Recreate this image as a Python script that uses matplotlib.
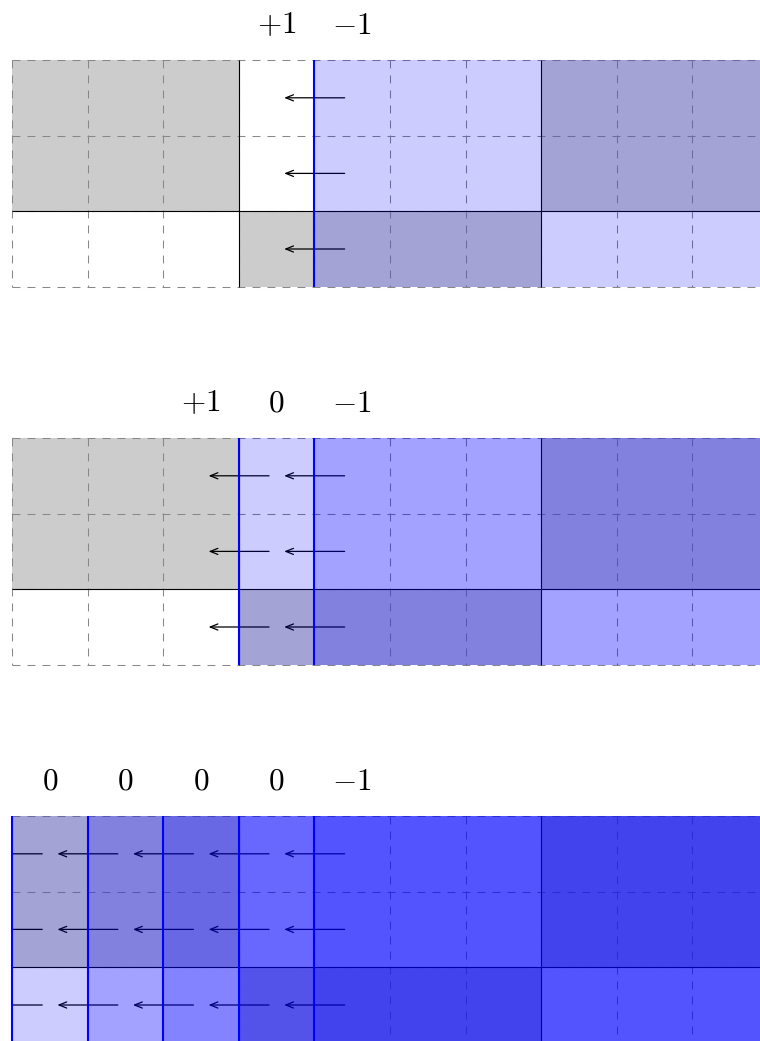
import numpy as np
import matplotlib.pyplot as plt
from matplotlib.patches import FancyArrowPatch, Rectangle

plt.rcParams['mathtext.fontset'] = 'cm'

n_cols = 10
n_rows = 3

# base checkerboard, 1 = gray cell, 0 = white cell (rows from top)
base_gray = [
    [1, 1, 1, 0, 0, 0, 0, 1, 1, 1],
    [1, 1, 1, 0, 0, 0, 0, 1, 1, 1],
    [0, 0, 0, 1, 1, 1, 1, 0, 0, 0],
]
block_cols = [3, 7]
block_rows = [2]

# number of stacked blue layers per column
layers1 = [0, 0, 0, 0, 1, 1, 1, 1, 1, 1]
layers2 = [0, 0, 0, 1, 2, 2, 2, 2, 2, 2]
layers3 = [1, 2, 3, 4, 5, 5, 5, 5, 5, 5]

# blue walls (an arrow crosses each one in every row)
walls1 = [4]
walls2 = [3, 4]
walls3 = [0, 1, 2, 3, 4]

label_cols1 = [3, 4]
labels1 = ['+1', '-1']
label_cols2 = [2, 3, 4]
labels2 = ['+1', '0', '-1']
label_cols3 = [0, 1, 2, 3, 4]
labels3 = ['0', '0', '0', '0', '-1']

panels = [
    (layers1, walls1, label_cols1, labels1),
    (layers2, walls2, label_cols2, labels2),
    (layers3, walls3, label_cols3, labels3),
]

px = 75.6  # pixels per cell
fig = plt.figure(figsize=(7.6, 10.41), dpi=100)
ax = fig.add_axes([0, 0, 1, 1])
ax.set_xlim(-12 / px, 748 / px)
ax.set_ylim((1041 - 60) / px, -60 / px)
ax.axis('off')

gray_mask = np.array(base_gray)
cols = np.arange(n_cols)
dash = (0, (7.6, 6.8))

for p, (layers, walls, lcols, labels) in enumerate(panels):
    off = 5 * p

    # gray base
    for r in range(n_rows):
        gc = cols[gray_mask[r] == 1]
        ax.bar(gc, 1, bottom=off + r, width=1, align='edge',
               color='#cccccc', linewidth=0, zorder=1)

    # dashed help grid
    ax.hlines(off + np.arange(n_rows + 1), 0, n_cols, colors='#888888',
              linewidth=0.75, linestyles=dash, zorder=2)
    ax.vlines(np.arange(n_cols + 1), off, off + n_rows, colors='#888888',
              linewidth=0.75, linestyles=dash, zorder=2)

    # solid block borders
    ax.vlines(block_cols, off, off + n_rows, colors='black', linewidth=0.8, zorder=2)
    ax.hlines([off + r for r in block_rows], 0, n_cols, colors='black',
              linewidth=0.8, zorder=2)

    # arrows (clipped to the grid)
    clip = Rectangle((0, off), n_cols, n_rows, transform=ax.transData,
                     facecolor='none', edgecolor='none')
    ax.add_patch(clip)
    for k in walls:
        for r in range(n_rows):
            y = off + r + 0.5
            arr = FancyArrowPatch((k + 0.4, y), (k - 0.4, y),
                                  arrowstyle='->,head_length=0.55,head_width=0.22',
                                  mutation_scale=10, lw=0.9, color='black',
                                  shrinkA=0, shrinkB=0, zorder=3)
            ax.add_patch(arr)
            arr.set_clip_path(clip)

    # blue overlays, each layer at 20% opacity
    lay = np.array(layers)
    for n in np.unique(lay[lay > 0]):
        ax.bar(cols[lay == n], n_rows, bottom=off, width=1, align='edge',
               color='blue', alpha=1 - 0.8 ** n, linewidth=0, zorder=4)

    # blue walls
    ax.vlines(walls, off, off + n_rows, colors='blue', linewidth=1.5, zorder=5)

    # labels
    for c, t in zip(lcols, labels):
        ax.text(c + 0.5, off - 0.35, '$' + t + '$', ha='center', va='baseline',
                fontsize=22.5, color='black')

fig.savefig('out.png', dpi=100)
